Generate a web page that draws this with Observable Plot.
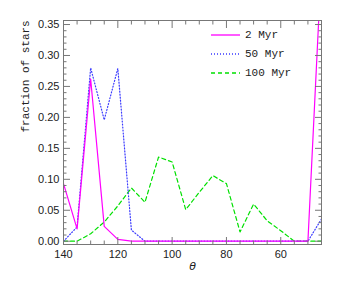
<!DOCTYPE html>
<html>
<head>
<meta charset="utf-8">
<script src="https://cdn.jsdelivr.net/npm/d3@7"></script>
<script src="https://cdn.jsdelivr.net/npm/@observablehq/plot@0.6"></script>
<style>
  html, body { margin: 0; padding: 0; background: #fff; }
  #wrap { position: relative; width: 340px; height: 284px; }
  #legend { position: absolute; left: 211px; top: 25px; font: 11px "Liberation Mono", monospace; color: #222; }
  #legend div { height: 19px; display: flex; align-items: center; }
  #legend svg { margin-right: 5px; }
</style>
</head>
<body>
<div id="wrap"></div>
<script>
// theta values (degrees)
const theta = [140,135,130,125,120,115,110,105,100,95,90,85,80,75,70,65,60,55,50,45];
// fraction of stars per series
const myr2   = [0.093,0.020,0.262,0.024,0.003,0,0,0,0,0,0,0,0,0,0,0,0,0,0,0.45];
const myr50  = [0,0.023,0.280,0.196,0.279,0.018,0,0,0,0,0,0,0,0,0,0,0,0,0,0.036];
const myr100 = [0,0,0.012,0.031,0.057,0.086,0.063,0.136,0.128,0.051,0.079,0.106,0.093,0.015,0.060,0.033,0.017,0,0,0];
const seriesNames = ["2 Myr", "50 Myr", "100 Myr"];
const yMajor = [0,0.05,0.10,0.15,0.20,0.25,0.30,0.35];
const yMinor = d3.range(0, 36).map(i => i / 100).filter(v => Math.round(v * 100) % 5 !== 0);
const xMajor = [140,120,100,80,60];
const xMinor = d3.range(45, 141, 5).filter(v => v % 20 !== 0);

const colors = ["#ff00ff", "#3a3aff", "#00e000"];
const dashes = [null, "1,2", "4,3"];

const rows = (vals) => theta.map((t, i) => ({theta: t, v: vals[i]}));
const tickColor = "#777";
const blank = () => "";

const chart = Plot.plot({
  width: 340,
  height: 284,
  marginLeft: 63,
  marginRight: 19,
  marginTop: 20,
  marginBottom: 40,
  style: {fontFamily: "'Liberation Sans', Arial, sans-serif", fontSize: "11px", color: "#222", background: "#fff"},
  x: {domain: [140, 45]},
  y: {domain: [-0.0053, 0.3565]},
  marks: [
    Plot.line(rows(myr100), {x: "theta", y: "v", stroke: colors[2], strokeWidth: 1.2, strokeDasharray: dashes[2], clip: true}),
    Plot.line(rows(myr50), {x: "theta", y: "v", stroke: colors[1], strokeWidth: 1.2, strokeDasharray: dashes[1], clip: true}),
    Plot.line(rows(myr2), {x: "theta", y: "v", stroke: colors[0], strokeWidth: 1.2, clip: true}),
    Plot.frame({stroke: tickColor}),
    // y axis labels and inward ticks
    Plot.axisY({ticks: yMajor, tickSize: 0, tickPadding: 4, tickFormat: d3.format(".2f"), label: null}),
    Plot.axisY({ticks: yMajor, anchor: "left", tickSize: -7, tickFormat: blank, label: null, stroke: tickColor}),
    Plot.axisY({ticks: yMinor, anchor: "left", tickSize: -3.5, tickFormat: blank, label: null, stroke: tickColor}),
    Plot.axisY({ticks: yMajor, anchor: "right", tickSize: -7, tickFormat: blank, label: null, stroke: tickColor}),
    Plot.axisY({ticks: yMinor, anchor: "right", tickSize: -3.5, tickFormat: blank, label: null, stroke: tickColor}),
    // x axis labels and inward ticks
    Plot.axisX({ticks: xMajor, tickSize: 0, tickPadding: 6, tickFormat: d => d, label: null}),
    Plot.axisX({ticks: xMajor, anchor: "bottom", tickSize: -7, tickFormat: blank, label: null, stroke: tickColor}),
    Plot.axisX({ticks: xMinor, anchor: "bottom", tickSize: -3.5, tickFormat: blank, label: null, stroke: tickColor}),
    Plot.axisX({ticks: xMajor, anchor: "top", tickSize: -7, tickFormat: blank, label: null, stroke: tickColor}),
    Plot.axisX({ticks: xMinor, anchor: "top", tickSize: -3.5, tickFormat: blank, label: null, stroke: tickColor}),
    Plot.text(["fraction of stars"], {frameAnchor: "left", dx: -38, rotate: -90, fontFamily: "'Liberation Mono', monospace", fontSize: 11, fill: "#222"}),
    Plot.text(["θ"], {frameAnchor: "bottom", dy: 25, fontStyle: "italic", fontFamily: "'DejaVu Sans', sans-serif", fontSize: 11, fill: "#222"})
  ]
});

const wrap = document.getElementById("wrap");
wrap.appendChild(chart);

const legend = document.createElement("div");
legend.id = "legend";
seriesNames.forEach((name, i) => {
  const row = document.createElement("div");
  const dash = dashes[i] ? ` stroke-dasharray="${dashes[i]}"` : "";
  row.innerHTML = `<svg width="29" height="6"><line x1="0" y1="3" x2="29" y2="3" stroke="${colors[i]}" stroke-width="1.3"${dash}/></svg><span>${name}</span>`;
  legend.appendChild(row);
});
wrap.appendChild(legend);
</script>
</body>
</html>
